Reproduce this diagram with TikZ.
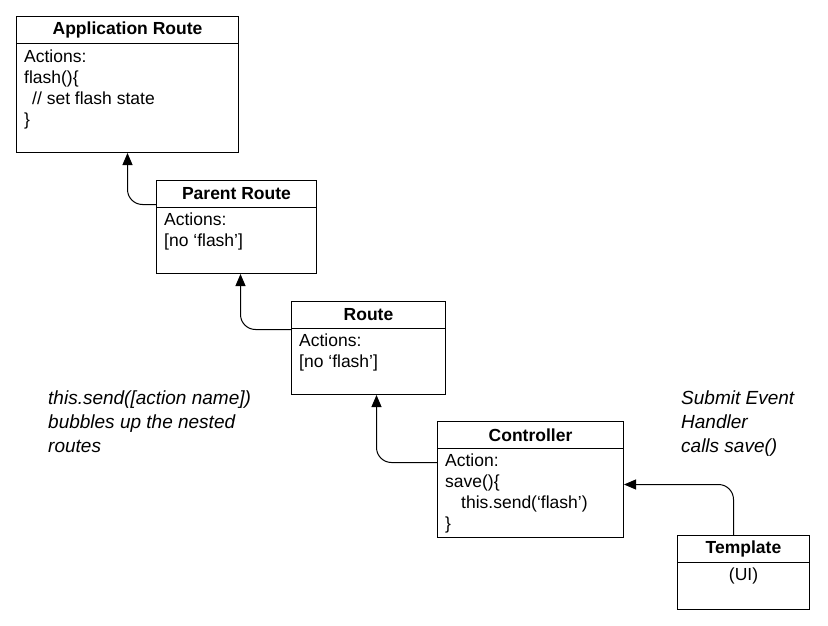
\documentclass[tikz,border=0pt]{standalone}
\usepackage{fontspec}
\setmainfont{Liberation Sans}
\usetikzlibrary{arrows.meta,positioning}

\begin{document}
\begin{tikzpicture}[x=1pt,y=-1pt,
  font=\fontsize{17.5}{21}\selectfont,
  frame/.style={draw,line width=1pt,anchor=north west,inner sep=0pt},
  head/.style={draw,line width=1pt,anchor=north west,minimum height=26.5pt,
    inner sep=0pt,font=\fontsize{17.5}{21}\selectfont\bfseries},
  body/.style={anchor=north west,align=left,inner xsep=8pt,inner ysep=5pt},
  note/.style={anchor=north west,align=left,inner sep=0pt,
    font=\fontsize{19}{24}\selectfont\itshape},
  arr/.style={-{Triangle[length=12pt,width=10pt]},line width=1pt,rounded corners=15pt}]
\useasboundingbox (0,0) rectangle (828,626);
% boxes
\node[frame,minimum width=222pt,minimum height=136pt] (app) at (16,16) {};
\node[head,minimum width=222pt,minimum height=27.5pt] (apph) at (app.north west) {Application Route};
\node[body] (appb) at (apph.south west) {Actions:\\flash()\{\\\hspace{8pt}// set flash state\\\}};
\node[frame,minimum width=160pt,minimum height=93pt] (par) at (156,180) {};
\node[head,minimum width=160pt] (parh) at (par.north west) {Parent Route};
\node[body] (parb) at (parh.south west) {Actions:\\{[}no ‘flash’{]}};
\node[frame,minimum width=154pt,minimum height=93pt] (rt) at (291,301) {};
\node[head,minimum width=154pt] (rth) at (rt.north west) {Route};
\node[body] (rtb) at (rth.south west) {Actions:\\{[}no ‘flash’{]}};
\node[frame,minimum width=186pt,minimum height=116pt] (ctl) at (437,421) {};
\node[head,minimum width=186pt] (ctlh) at (ctl.north west) {Controller};
\node[body] (ctlb) at (ctlh.south west) {Action:\\save()\{\\\hspace{16pt}this.send(‘flash’)\\\}};
\node[frame,minimum width=132pt,minimum height=74pt] (tpl) at (677,535) {};
\node[head,minimum width=132pt,minimum height=27pt] (tplh) at (tpl.north west) {Template};
\node[body,anchor=north,align=center] (tplb) at (tplh.south) {(UI)};
% notes
\node[note] (bubble) at (48,391) {this.send([action name])\\bubbles up the nested\\routes};
\node[note] (submit) at (681,391) {Submit Event\\Handler\\calls save()};
% arrows
\draw[arr] ([yshift=3pt]parh.south west) -| (app.south);
\draw[arr] ([yshift=-1pt]rth.south west) -| ([xshift=4pt]par.south);
\draw[arr] ([yshift=-14pt]ctlh.south west) -| ([xshift=8pt]rt.south);
\draw[arr] ([xshift=-10pt]tpl.north) |- ([yshift=-5pt]ctl.east);
\end{tikzpicture}
\end{document}
